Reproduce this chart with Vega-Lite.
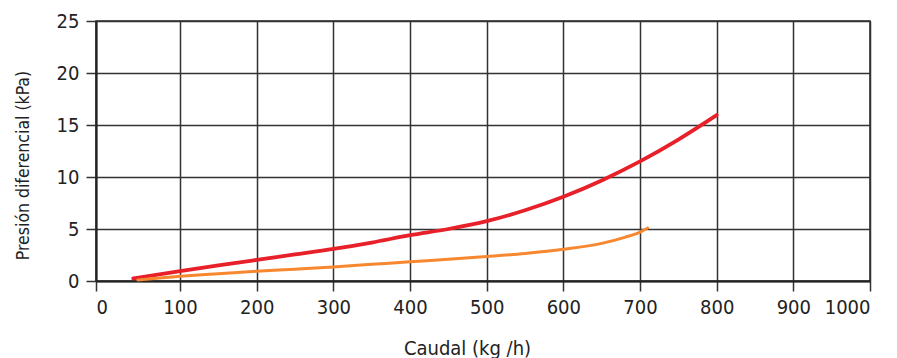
{
  "$schema": "https://vega.github.io/schema/vega-lite/v6.json",
  "width": 774,
  "height": 260,
  "autosize": "none",
  "padding": {"left": 96, "top": 21, "right": 27, "bottom": 77},
  "background": "white",
  "config": {
    "view": {"stroke": "#222", "strokeWidth": 1.5},
    "font": "DejaVu Sans Condensed, Roboto, sans-serif"
  },
  "data": {
    "values": [
      {"serie": "A", "caudal": 39, "presion": 0.25},
      {"serie": "A", "caudal": 100, "presion": 0.95},
      {"serie": "A", "caudal": 150, "presion": 1.5},
      {"serie": "A", "caudal": 200, "presion": 2.03},
      {"serie": "A", "caudal": 250, "presion": 2.55},
      {"serie": "A", "caudal": 300, "presion": 3.08},
      {"serie": "A", "caudal": 350, "presion": 3.7},
      {"serie": "A", "caudal": 400, "presion": 4.4},
      {"serie": "A", "caudal": 450, "presion": 5.0},
      {"serie": "A", "caudal": 500, "presion": 5.75},
      {"serie": "A", "caudal": 550, "presion": 6.8},
      {"serie": "A", "caudal": 600, "presion": 8.1},
      {"serie": "A", "caudal": 650, "presion": 9.67},
      {"serie": "A", "caudal": 700, "presion": 11.5},
      {"serie": "A", "caudal": 750, "presion": 13.6},
      {"serie": "A", "caudal": 800, "presion": 15.95},
      {"serie": "B", "caudal": 45, "presion": 0.1},
      {"serie": "B", "caudal": 100, "presion": 0.45},
      {"serie": "B", "caudal": 150, "presion": 0.7},
      {"serie": "B", "caudal": 200, "presion": 0.93},
      {"serie": "B", "caudal": 250, "presion": 1.14},
      {"serie": "B", "caudal": 300, "presion": 1.35},
      {"serie": "B", "caudal": 350, "presion": 1.6},
      {"serie": "B", "caudal": 400, "presion": 1.85},
      {"serie": "B", "caudal": 450, "presion": 2.08},
      {"serie": "B", "caudal": 500, "presion": 2.35},
      {"serie": "B", "caudal": 550, "presion": 2.65},
      {"serie": "B", "caudal": 600, "presion": 3.05},
      {"serie": "B", "caudal": 650, "presion": 3.62},
      {"serie": "B", "caudal": 680, "presion": 4.2},
      {"serie": "B", "caudal": 700, "presion": 4.7},
      {"serie": "B", "caudal": 710, "presion": 5.1}
    ]
  },
  "mark": {"type": "line", "interpolate": "monotone", "strokeCap": "round"},
  "encoding": {
    "x": {
      "field": "caudal", "type": "quantitative",
      "scale": {"domain": [-9.6, 1000], "nice": false, "zero": false},
      "axis": {
        "values": [-9.6,100,200,300,400,500,600,700,800,900,1000],
        "labelExpr": "datum.value < 0 ? '0' : format(datum.value, 'd')",
        "title": "Caudal (kg /h)",
        "titleFontSize": 20, "titleFontWeight": "normal", "titleColor": "#222",
        "titleX": 371, "titleY": 77, "titleBaseline": "bottom",
        "labelFontSize": 20, "labelColor": "#222", "labelPadding": 6,
        "tickSize": 10, "tickColor": "#333", "tickWidth": 1.5,
        "domainColor": "#222", "domainWidth": 2,
        "gridColor": "#333", "gridWidth": 1.5, "gridOpacity": 1
      }
    },
    "y": {
      "field": "presion", "type": "quantitative",
      "scale": {"domain": [0, 25], "nice": false},
      "axis": {
        "values": [0,5,10,15,20,25],
        "format": "d",
        "title": "Presión diferencial (kPa)",
        "titleFontSize": 17.5, "titleFontWeight": "normal", "titleColor": "#222",
        "titlePadding": 24, "titleY": 144,
        "labelFontSize": 20, "labelColor": "#222", "labelPadding": 7,
        "tickSize": 10, "tickColor": "#333", "tickWidth": 1.5,
        "domainColor": "#222", "domainWidth": 2,
        "gridColor": "#333", "gridWidth": 1.5, "gridOpacity": 1
      }
    },
    "color": {
      "field": "serie", "type": "nominal",
      "scale": {"domain": ["A", "B"], "range": ["#e8202a", "#f7882f"]},
      "legend": null
    },
    "strokeWidth": {
      "field": "serie", "type": "nominal",
      "scale": {"domain": ["A", "B"], "range": [3.8, 3]},
      "legend": null
    }
  }
}
